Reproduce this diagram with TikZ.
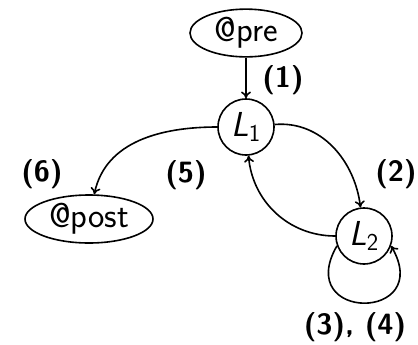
\documentclass[tikz,border=0pt]{standalone}
\usetikzlibrary{arrows.meta,shapes.geometric}
\begin{document}
\begin{tikzpicture}[x=0.75pt,y=-0.75pt,
  every node/.style={font=\fontsize{26}{30}\selectfont\sffamily},
  state/.style={draw,circle,line width=1.2pt,minimum size=42pt,inner sep=0pt},
  tag/.style={draw,ellipse,line width=1.2pt,inner sep=1pt},
  lab/.style={font=\fontsize{22}{26}\selectfont\sffamily\bfseries},
  conn/.style={line width=1.2pt,-{To[length=5pt,width=7.5pt]}}]
\useasboundingbox (0,0) rectangle (418,344);
\node[tag,minimum width=84pt,minimum height=33pt] (pre) at (246,33) {@pre};
\node[state] (L1) at (246,127) {\textit{L}\textsubscript{1}};
\node[state] (L2) at (364,236) {\textit{L}\textsubscript{2}};
\node[tag,minimum width=96pt,minimum height=36pt] (post) at (89,219) {@post};
\node[lab] (l1) at (283,80) {(1)};
\node[lab] (l6) at (42,174) {(6)};
\node[lab] (l5) at (186,175) {(5)};
\node[lab] (l2) at (396,174) {(2)};
\node[lab] (l34) at (355,327) {(3), (4)};
\draw[conn] (pre) -- (L1);
\draw[conn] (L1) to[out=5,in=97] (L2);
\draw[conn] (L2) to[out=180,in=-85] (L1);
\draw[conn] (L1) to[out=180,in=78] (post);
\draw[conn] (L2.200) .. controls +(240:66pt) and +(-60:66pt) .. (L2.-20);
\end{tikzpicture}
\end{document}
